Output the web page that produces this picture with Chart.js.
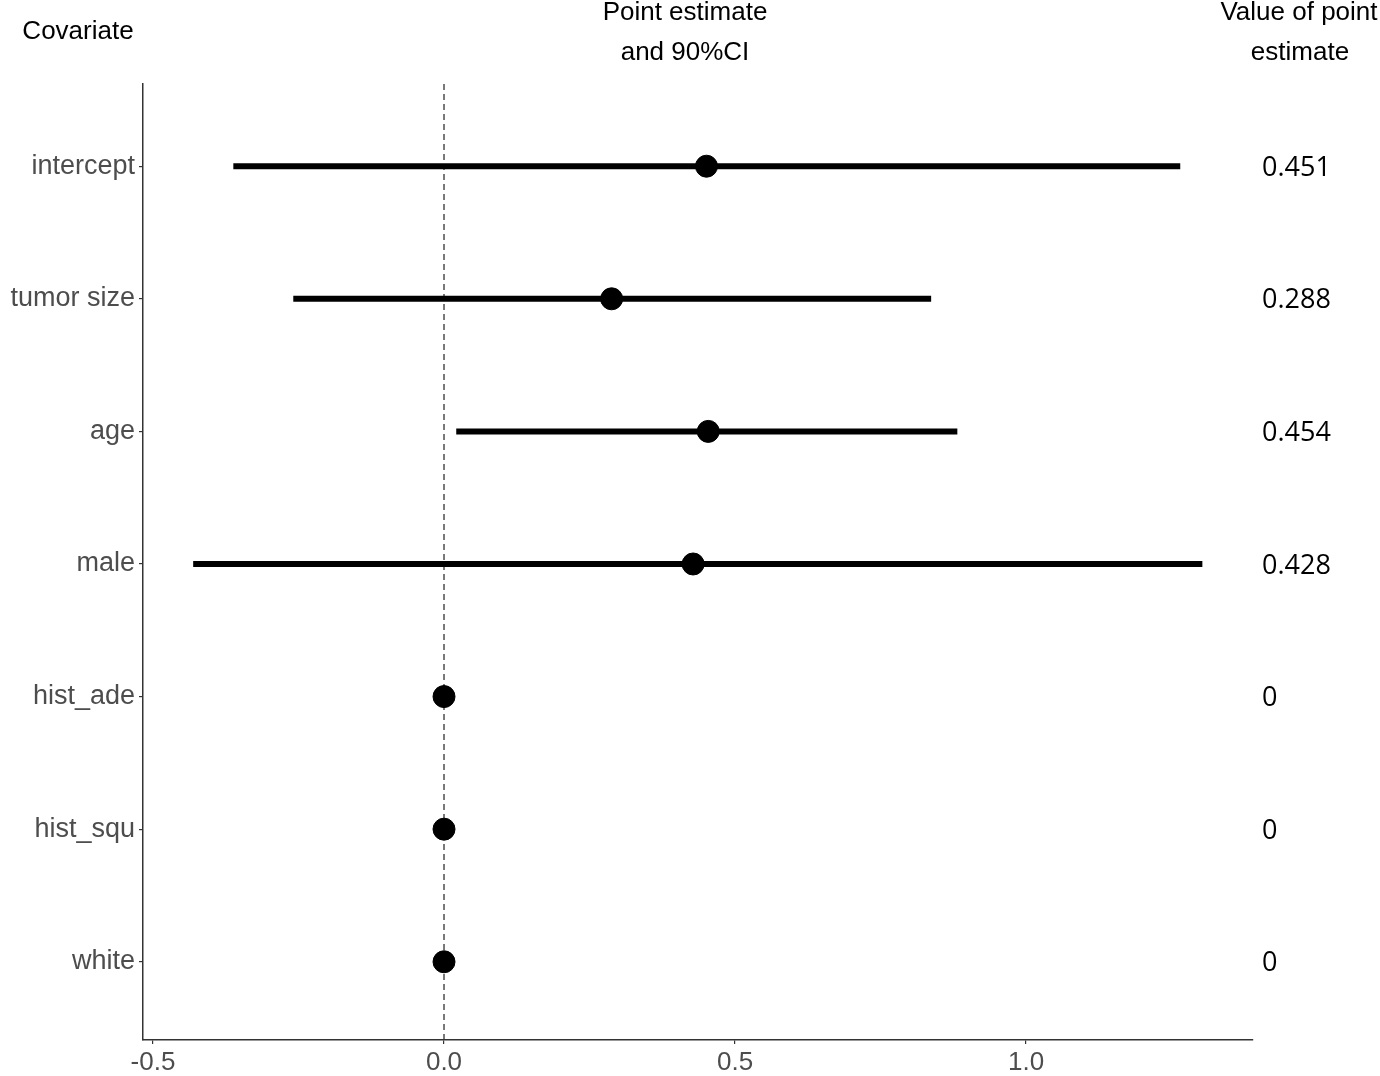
<!DOCTYPE html>
<html>
<head>
<meta charset="utf-8">
<script src="https://cdn.jsdelivr.net/npm/chart.js@4/dist/chart.umd.min.js"></script>
<style>
  body { margin: 0; background: #fff; }
  #wrap { width: 1380px; height: 1076px; }
</style>
</head>
<body>
<div id="wrap"><canvas id="forest" width="1380" height="1076"></canvas></div>
<script>
// values
const covariates = ["intercept", "tumor size", "age", "male", "hist_ade", "hist_squ", "white"];
const estimates = [0.451, 0.288, 0.454, 0.428, 0, 0, 0];
const ciLower = [-0.362, -0.259, 0.021, -0.431, null, null, null];
const ciUpper = [1.265, 0.837, 0.882, 1.303, null, null, null];
const valueLabels = ["0.451", "0.288", "0.454", "0.428", "0", "0", "0"];
const xTicks = [-0.5, 0, 0.5, 1.0];

const axisColor = '#333333';
const tickFont = { family: '"Liberation Sans", Arial, sans-serif', size: 27 };

// one line per confidence interval
const ciSets = [];
covariates.forEach(function (c, i) {
    if (ciLower[i] === null) return;
    ciSets.push({
        label: c + ' CI',
        data: [{ x: ciLower[i], y: i + 1 }, { x: ciUpper[i], y: i + 1 }],
        showLine: true,
        borderColor: '#000',
        borderWidth: 6,
        borderCapStyle: 'butt',
        pointRadius: 0,
        order: 1
    });
});

const textPlugin = {
    id: 'forestText',
    afterDraw(chart) {
        const ctx = chart.ctx;
        const y = chart.scales.y;
        ctx.save();
        ctx.fillStyle = '#000';
        ctx.textBaseline = 'middle';
        ctx.textAlign = 'center';
        ctx.font = '26px "Liberation Sans", Arial, sans-serif';
        ctx.fillText('Covariate', 78, 32);
        ctx.fillText('Point estimate', 685, 13);
        ctx.fillText('and 90%CI', 685, 53);
        ctx.fillText('Value of point', 1299, 13);
        ctx.fillText('estimate', 1300, 53);

        ctx.textAlign = 'left';
        ctx.font = '27px "Open Sans", "Noto Sans", sans-serif';
        valueLabels.forEach(function (v, i) {
            ctx.fillText(v, 1262, y.getPixelForValue(i + 1) + 2);
        });
        ctx.restore();
    }
};

new Chart(document.getElementById('forest'), {
    type: 'scatter',
    data: {
        datasets: [
            {
                label: 'estimate',
                data: estimates.map(function (e, i) { return { x: e, y: i + 1 }; }),
                backgroundColor: '#000',
                borderColor: '#000',
                pointRadius: 11,
                order: 0
            },
            ...ciSets,
            {
                label: 'zero',
                data: [{ x: 0, y: 0.38 }, { x: 0, y: 7.59 }],
                showLine: true,
                borderColor: axisColor,
                borderWidth: 1.3,
                borderDash: [6, 4],
                pointRadius: 0,
                order: 2
            }
        ]
    },
    options: {
        responsive: false,
        animation: false,
        layout: { padding: { top: 84, right: 127, left: 0, bottom: 0 } },
        plugins: {
            legend: { display: false },
            tooltip: { enabled: false }
        },
        scales: {
            x: {
                type: 'linear',
                min: -0.5172,
                max: 1.39,
                afterBuildTicks: function (s) { s.ticks = xTicks.map(function (v) { return { value: v }; }); },
                afterFit: function (s) { s.height = 36; },
                ticks: {
                    color: '#4d4d4d',
                    font: { family: tickFont.family, size: 26 },
                    padding: 3,
                    maxRotation: 0,
                    callback: function (v) { return Number(v).toFixed(1); }
                },
                grid: { drawOnChartArea: false, drawTicks: true, tickLength: 4, color: axisColor, lineWidth: 1.2 },
                border: { display: true, color: axisColor, width: 1.5 }
            },
            y: {
                type: 'linear',
                min: 0.38,
                max: 7.59,
                reverse: true,
                afterBuildTicks: function (s) { s.ticks = covariates.map(function (c, i) { return { value: i + 1 }; }); },
                afterFit: function (s) { s.width = 143; },
                ticks: {
                    color: '#4d4d4d',
                    font: tickFont,
                    padding: 4,
                    autoSkip: false,
                    callback: function (v) { return covariates[Math.round(v) - 1]; }
                },
                grid: { drawOnChartArea: false, drawTicks: true, tickLength: 4, color: axisColor, lineWidth: 1.2 },
                border: { display: true, color: axisColor, width: 1.5 }
            }
        }
    },
    plugins: [textPlugin]
});
</script>
</body>
</html>
